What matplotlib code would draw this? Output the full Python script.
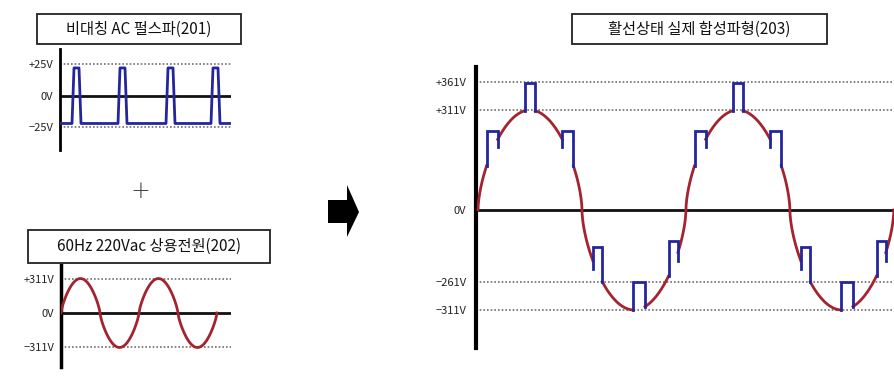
import numpy as np
import matplotlib
matplotlib.use('Agg')
import matplotlib.pyplot as plt
from matplotlib.patches import Rectangle, Polygon

W, H = 895, 382
plt.rcParams['font.family'] = ['Liberation Sans Narrow', 'Noto Sans CJK KR', 'DejaVu Sans']

TITLES = ["비대칭 AC 펄스파(201)", "60Hz 220Vac 상용전원(202)", "활선상태 실제 합성파형(203)"]

# 201: asymmetric AC pulse
LEVELS_201 = [25, 0, -25]
LABELS_201 = ["+25V", "0V", "\u221225V"]
PULSE_HIGH_201 = 22
PULSE_LOW_201 = -22
PULSE_RISE_201 = [12, 58, 106, 151]
PULSE_EDGE_201 = 2
PULSE_FLAT_201 = 5
END_201 = 170

# 202: 60Hz mains
LEVELS_202 = [311, 0, -311]
LABELS_202 = ["+311V", "0V", "\u2212311V"]
AMP_202 = 311
CYCLES_202 = 2
SHAPE_202 = 0.75

# 203: combined waveform (schematic units, 311V -> 1.0)
LEVEL_POS_203 = [1.28, 1.0, 0.0, -0.72, -1.0]
LABELS_203 = ["+361V", "+311V", "0V", "\u2212261V", "\u2212311V"]
CYCLES_203 = 2
SHAPE_203 = 0.6
PULSES_203 = [(15, 34), (81, 99), (146, 165), (199, 215), (268, 289), (330, 346)]
PULSE_STEP_203 = [0.35, 0.28, 0.35, 0.35, 0.28, 0.35]
HOOK_203 = 0.08

RED = '#a3232e'
BLUE = '#25259c'
DOT = '#6f6f6f'


def fig_rect(l, t, r, b):
    return [l / W, 1 - b / H, (r - l) / W, (b - t) / H]


def wave(deg, p):
    s = np.sin(np.radians(deg))
    return np.sign(s) * np.abs(s) ** p


def style_axes(ax, levels, labels, lw, pad):
    for s in ['top', 'right', 'bottom']:
        ax.spines[s].set_visible(False)
    ax.spines['left'].set_linewidth(lw)
    ax.spines['left'].set_color('black')
    ax.set_xticks([])
    ax.set_yticks(levels, labels)
    ax.tick_params(axis='y', length=0, pad=pad, labelsize=8, colors='#222222')
    for lv in levels:
        if lv == 0:
            ax.axhline(0, color='#111111', lw=2, zorder=1)
        else:
            ax.axhline(lv, color=DOT, lw=1.2, ls=(0, (1, 1.2)), zorder=1)
    ax.patch.set_alpha(0)


fig = plt.figure(figsize=(W / 100, H / 100), dpi=100)

# ---- 201 ----
ax1 = fig.add_axes(fig_rect(60, 49, 231, 150))
ax1.set_xlim(0, 171)
ax1.set_ylim(-43, 37)
xs, ys = [0], [PULSE_LOW_201]
for r in PULSE_RISE_201:
    xs += [r, r + PULSE_EDGE_201, r + PULSE_EDGE_201 + PULSE_FLAT_201,
           r + 2 * PULSE_EDGE_201 + PULSE_FLAT_201]
    ys += [PULSE_LOW_201, PULSE_HIGH_201, PULSE_HIGH_201, PULSE_LOW_201]
xs.append(END_201)
ys.append(PULSE_LOW_201)
ax1.plot(xs, ys, color=BLUE, lw=2, zorder=3)
style_axes(ax1, LEVELS_201, LABELS_201, 2, 5)

# ---- 202 ----
ax2 = fig.add_axes(fig_rect(61, 265, 231, 367))
ax2.set_xlim(0, 785)
ax2.set_ylim(-487, 433)
t2 = np.linspace(0, 360 * CYCLES_202, 800)
ax2.plot(t2, AMP_202 * wave(t2, SHAPE_202), color=RED, lw=2, zorder=3)
style_axes(ax2, LEVELS_202, LABELS_202, 2.5, 5)

# ---- 203 ----
ax3 = fig.add_axes(fig_rect(476, 67, 895, 348))
ax3.set_xlim(-3.5, 722)
ax3.set_ylim(-1.38, 1.43)
t3 = np.linspace(0, 360 * CYCLES_203, 3000)
y3 = wave(t3, SHAPE_203)
for c in range(CYCLES_203):
    for (a, b), step in zip(PULSES_203, PULSE_STEP_203):
        a, b = a + 360 * c, b + 360 * c
        y3[(t3 > a) & (t3 < b)] = np.nan
        sa, sb = wave(a, SHAPE_203), wave(b, SHAPE_203)
        top = min(sa, sb) + step
        ha = HOOK_203 if sa - sb > 0.1 else 0
        hb = HOOK_203 if sb - sa > 0.1 else 0
        ax3.plot([a, a, b, b], [sa - ha, top, top, sb - hb], color=BLUE, lw=2,
                 zorder=4, solid_joinstyle='miter')
ax3.plot(t3, y3, color=RED, lw=2, zorder=3)
style_axes(ax3, LEVEL_POS_203, LABELS_203, 3, 7)

# ---- title boxes ----
for (l, t, r, b), title in zip([(37, 14, 241, 44), (28, 230, 270, 263), (572, 14, 827, 44)], TITLES):
    x, y, w, h = fig_rect(l, t, r, b)
    fig.patches.append(Rectangle((x, y), w, h, transform=fig.transFigure,
                                 facecolor='white', edgecolor='#222222', lw=1.3))
    fig.text(x + w / 2, y + h / 2, title, ha='center', va='center', fontsize=11, color='#111111')

# plus sign and arrow
fig.text(140 / W, 1 - 191 / H, '+', ha='center', va='center', fontsize=17,
         color='#444444', family='DejaVu Sans', fontweight='light')
arrow_px = [(328, 200), (347, 200), (347, 185), (359, 212), (347, 237), (347, 223), (328, 223)]
fig.patches.append(Polygon([(x / W, 1 - y / H) for x, y in arrow_px], closed=True,
                           transform=fig.transFigure, facecolor='black', edgecolor='none'))

fig.savefig('out.png', dpi=100, facecolor='white')
